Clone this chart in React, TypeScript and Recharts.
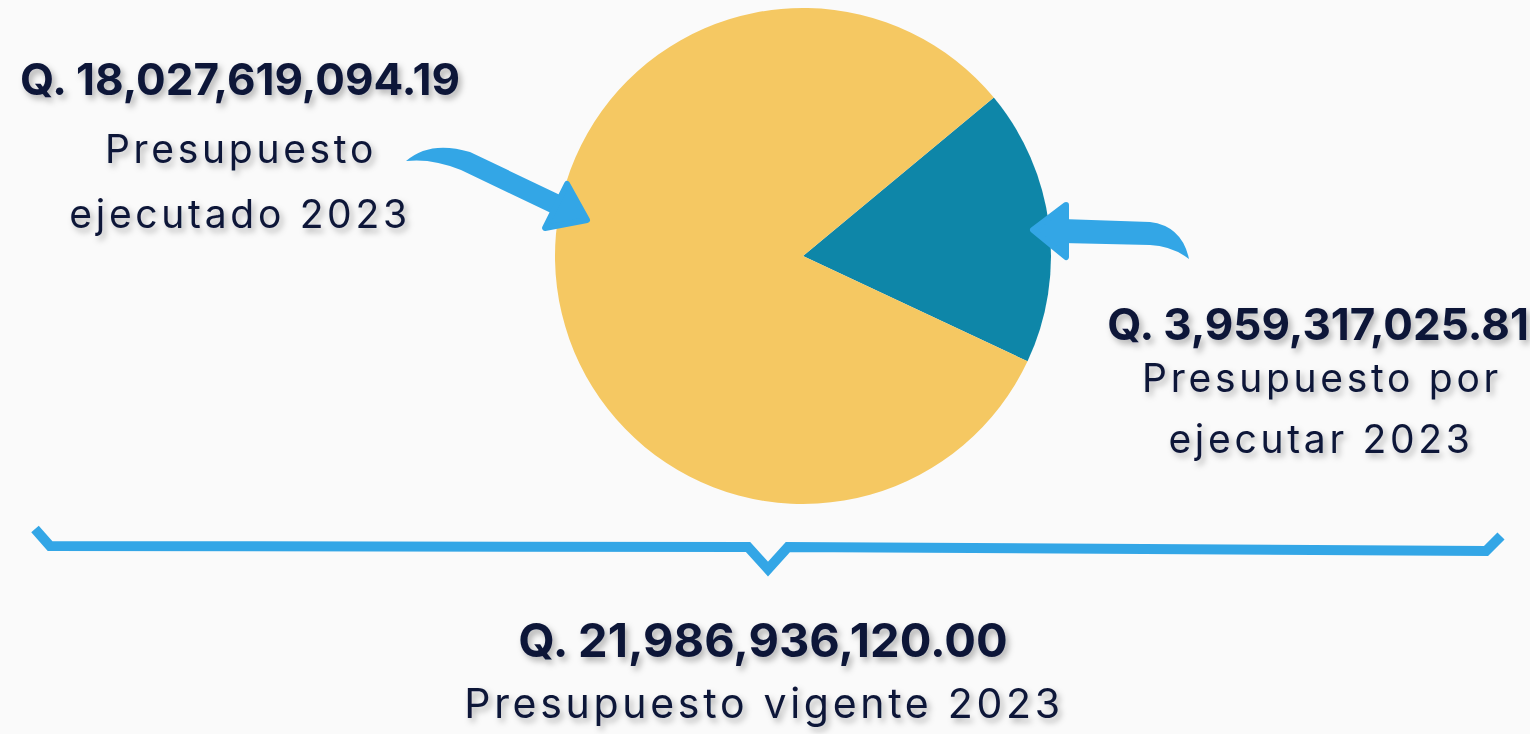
import React from "react";
import { PieChart, Pie, Cell } from "recharts";

const categories = ["Presupuesto por ejecutar 2023", "Presupuesto ejecutado 2023"];
const values = [3959317025.81, 18027619094.19];
const colors = ["#0E86A8", "#F5C862"];
const labelLines = [
  ["Presupuesto por", "ejecutar 2023"],
  ["Presupuesto", "ejecutado 2023"],
];
const totalLabel = "Presupuesto vigente 2023";

const data = categories.map((name, i) => ({ name, value: values[i] }));
const total = values.reduce((a, b) => a + b, 0);
const fmt = (v: number) =>
  "Q. " + v.toLocaleString("en-US", { minimumFractionDigits: 2, maximumFractionDigits: 2 });

const W = 1530;
const H = 734;
const CX = 803;
const CY = 256;
const R = 248;
const startAngle = 39.7;

const TEXT = "#0B1538";
const BLUE = "#33A6E6";
const FONT = "Inter, 'Noto Sans', sans-serif";
const LS = 3.7;

const Overlay = () => (
  <svg width={W} height={H} style={{ position: "absolute", left: 0, top: 0, pointerEvents: "none" }}>
    <defs>
      <filter id="tshadow" x="-10%" y="-30%" width="120%" height="170%">
        <feDropShadow dx="3" dy="4" stdDeviation="3" floodColor="#000" floodOpacity="0.3" />
      </filter>
    </defs>
    {/* left arrow */}
    <path
      d="M 406 161 Q 430 140 470 152 L 560 195 L 551 213 L 461 170 Q 432 158 406 161 Z"
      fill={BLUE}
    />
    <path d="M 567 184 L 587 220 L 545 228 Z" fill={BLUE} stroke={BLUE} strokeWidth={6} strokeLinejoin="round" />
    {/* right arrow */}
    <path
      d="M 1062 219 L 1150 222 Q 1182 226 1189 259 Q 1172 246 1150 245 L 1062 243 Z"
      fill={BLUE}
    />
    <path d="M 1066 205 L 1033 230 L 1066 257 Z" fill={BLUE} stroke={BLUE} strokeWidth={6} strokeLinejoin="round" />
    {/* brace */}
    <polyline
      points="35,529 50,546 748,547 768,569 788,547 1486,551 1501,536"
      fill="none"
      stroke={BLUE}
      strokeWidth={10}
      strokeLinejoin="miter"
    />
    <g filter="url(#tshadow)" fill={TEXT} fontFamily={FONT} textAnchor="middle">
      <text x={240} y={95} fontSize={44} fontWeight={700}>{fmt(values[1])}</text>
      <text x={241} y={163} fontSize={39} letterSpacing={LS}>{labelLines[1][0]}</text>
      <text x={240} y={228} fontSize={39} letterSpacing={LS}>{labelLines[1][1]}</text>

      <text x={1318} y={340} fontSize={44} fontWeight={700}>{fmt(values[0])}</text>
      <text x={1322} y={392} fontSize={39} letterSpacing={LS}>{labelLines[0][0]}</text>
      <text x={1321} y={453} fontSize={39} letterSpacing={LS}>{labelLines[0][1]}</text>

      <text x={763} y={657} fontSize={47} fontWeight={700}>{fmt(total)}</text>
      <text x={764} y={718} fontSize={41} letterSpacing={LS}>{totalLabel}</text>
    </g>
  </svg>
);

export default function App() {
  return (
    <div style={{ position: "absolute", left: 0, top: 0, width: W, height: H, background: "#FAFAFA" }}>
      <PieChart width={W} height={H} margin={{ top: 0, right: 0, bottom: 0, left: 0 }}>
        <Pie
          data={data}
          dataKey="value"
          nameKey="name"
          cx={CX}
          cy={CY}
          outerRadius={R}
          startAngle={startAngle}
          endAngle={startAngle - 360}
          stroke="none"
          isAnimationActive={false}
        >
          {data.map((d, i) => (
            <Cell key={d.name} fill={colors[i]} />
          ))}
        </Pie>
      </PieChart>
      <Overlay />
    </div>
  );
}
